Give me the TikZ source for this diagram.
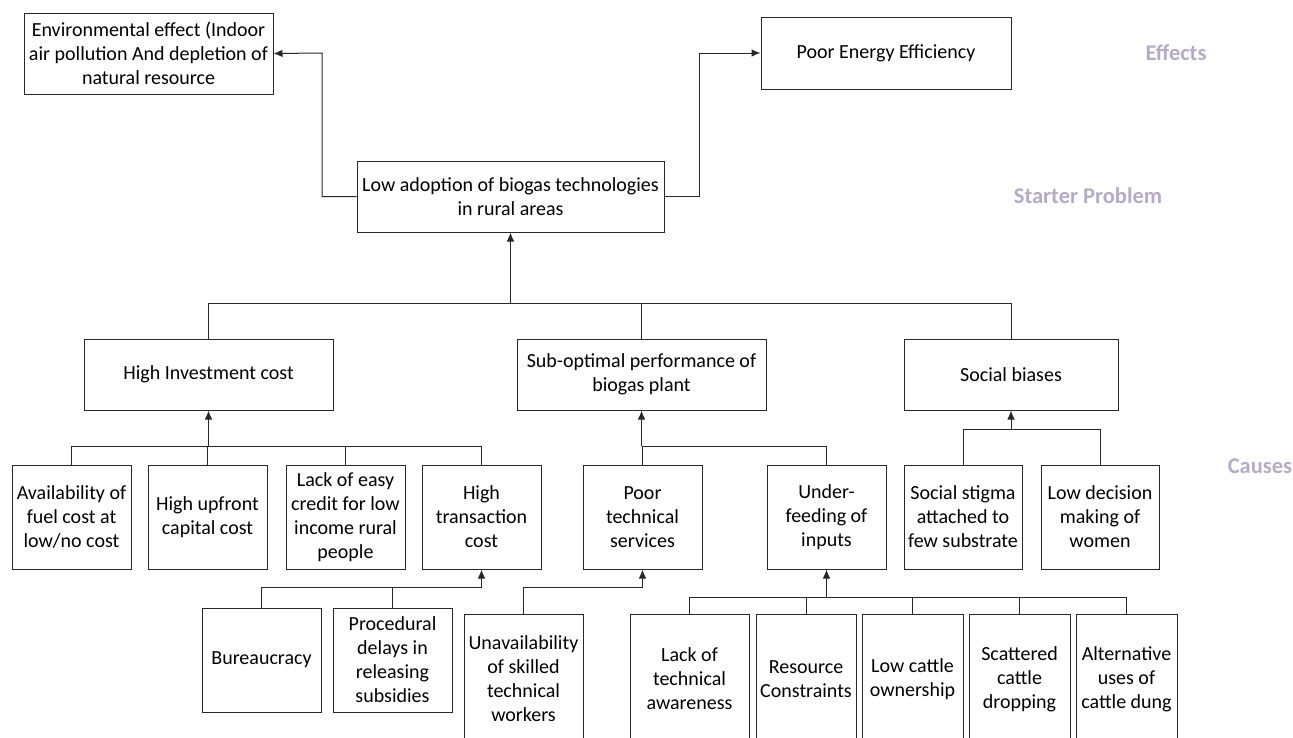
\documentclass[tikz,border=0pt]{standalone}
\usepackage{fontspec}
\setmainfont{Carlito}
\usetikzlibrary{arrows.meta}
\definecolor{lbl}{RGB}{181,171,196}
\definecolor{ln}{RGB}{40,40,40}
\begin{document}
\begin{tikzpicture}[x=1pt,y=-1pt,
  box/.style={draw=ln,line width=1pt,rectangle,align=center,inner sep=1pt,
    font=\fontsize{20}{24}\selectfont},
  wh/.style 2 args={minimum width=#1,minimum height=#2},
  conn/.style={draw=ln,line width=1pt},
  arr/.style={conn,-{Latex[length=9pt,width=7.5pt]}},
  lvl/.style={text=lbl,font=\fontsize{22.5}{26}\selectfont\bfseries}]
\clip (0,0) rectangle (1293,737);
\useasboundingbox (0,0) rectangle (1293,737);
% effects
\node[box,wh={249pt}{81pt}] (env) at (148.5,53.5) {Environmental effect (Indoor\\air pollution And depletion of\\natural resource};
\node[box,wh={250pt}{72pt}] (pee) at (886,53) {Poor Energy Efficiency};
% starter
\node[box,wh={307pt}{71pt}] (low) at (510.5,196.5) {Low adoption of biogas technologies\\in rural areas};
% level 2
\node[box,wh={249pt}{71pt}] (hic) at (208.5,374.5) {High Investment cost};
\node[box,wh={249pt}{71pt}] (sub) at (641.5,374.5) {Sub-optimal performance of\\biogas plant};
\node[box,wh={214pt}{71pt}] (soc) at (1011,374.5) {Social biases};
% level 3
\node[box,wh={119pt}{104pt}] (a1) at (71.5,517) {Availability of\\fuel cost at\\low/no cost};
\node[box,wh={119pt}{104pt}] (a2) at (207.5,517) {High upfront\\capital cost};
\node[box,wh={119pt}{104pt}] (a3) at (345.5,517) {Lack of easy\\credit for low\\income rural\\people};
\node[box,wh={119pt}{104pt}] (a4) at (481.5,517) {High\\transaction\\cost};
\node[box,wh={119pt}{104pt}] (pts) at (642.5,517) {Poor\\technical\\services};
\node[box,wh={119pt}{104pt}] (ufi) at (826.5,517) {Under-\\feeding of\\inputs};
\node[box,wh={118pt}{104pt}] (ss) at (963,517) {Social stigma\\attached to\\few substrate};
\node[box,wh={118pt}{104pt}] (ld) at (1100,517) {Low decision\\making of\\women};
% level 4
\node[box,wh={119pt}{104pt}] (bur) at (261.5,660) {Bureaucracy};
\node[box,wh={119pt}{104pt}] (pro) at (392.5,660) {Procedural\\delays in\\releasing\\subsidies};
\node[box,wh={119pt}{130pt}] (una) at (523.5,679) {Unavailability\\of skilled\\technical\\workers};
\node[box,wh={119pt}{130pt}] (lta) at (689.5,679) {Lack of\\technical\\awareness};
\node[box,wh={100pt}{130pt}] (rc) at (806,679) {Resource\\Constraints};
\node[box,wh={101pt}{130pt}] (lco) at (912.5,679) {Low cattle\\ownership};
\node[box,wh={101pt}{130pt}] (sc) at (1019.5,679) {Scattered\\cattle\\dropping};
\node[box,wh={101pt}{130pt}] (alt) at (1126.5,679) {Alternative\\uses of\\cattle dung};
% level labels
\node[lvl] (le) at (1176,53) {Effects};
\node[lvl] (ls) at (1088,196) {Starter Problem};
\node[lvl] (lc) at (1260,466) {Causes};
% junction coordinates
\coordinate (ce) at (322,53);
\coordinate (cp) at (699,53);
\coordinate (b0) at (510.5,303);
\coordinate (b1) at (208.5,446);
\coordinate (b2) at (641.5,446);
\coordinate (b3) at (1011,429);
\coordinate (b4) at (481.5,587);
\coordinate (b5) at (642.5,587);
\coordinate (b6) at (826.5,597);
% effects connectors
\draw[arr] (low.west) -| (ce) -- (env.east);
\draw[arr] (low.east) -| (cp) -- (pee.west);
% causes to starter
\draw[arr] (b0) -- (low.south);
\foreach \n in {hic,sub,soc} \draw[conn] (\n.north) |- (b0);
% high investment
\draw[arr] (b1) -- (hic.south);
\foreach \n in {a1,a2,a3,a4} \draw[conn] (\n.north) |- (b1);
% sub-optimal
\draw[arr] (b2) -- (sub.south);
\foreach \n in {pts,ufi} \draw[conn] (\n.north) |- (b2);
% social
\draw[arr] (b3) -- (soc.south);
\foreach \n in {ss,ld} \draw[conn] (\n.north) |- (b3);
% transaction
\draw[arr] (b4) -- (a4.south);
\foreach \n in {bur,pro} \draw[conn] (\n.north) |- (b4);
% technical services
\draw[arr] (b5) -- (pts.south);
\draw[conn] (una.north) |- (b5);
% under-feeding
\draw[arr] (b6) -- (ufi.south);
\foreach \n in {lta,rc,lco,sc,alt} \draw[conn] (\n.north) |- (b6);
\end{tikzpicture}
\end{document}
